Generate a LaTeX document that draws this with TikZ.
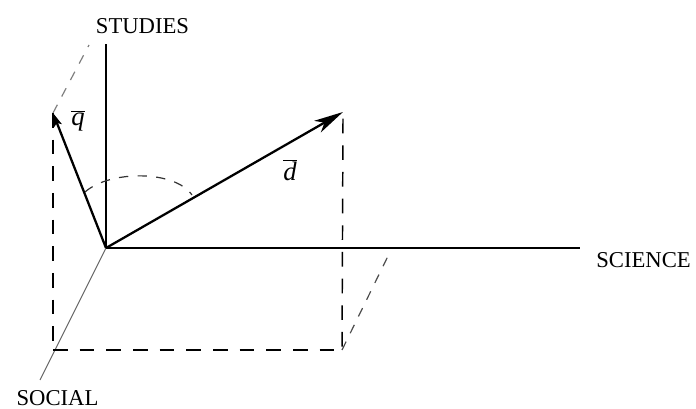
\documentclass[tikz,border=0pt]{standalone}
\usepackage{fontspec}
\setmainfont{Liberation Serif}
\usetikzlibrary{arrows.meta}

\begin{document}
\begin{tikzpicture}[x=0.75pt,y=-0.75pt,
    axis/.style={line width=1.1pt},
    vec/.style={line width=1.7pt},
    proj/.style={line width=1.1pt, dash pattern=on 11pt off 9pt},
    guide/.style={line width=0.9pt, gray, dash pattern=on 7pt off 7pt},
    every node/.style={inner sep=0pt, font=\fontsize{17}{20}\selectfont}]
    \useasboundingbox (0,0) rectangle (696,409);

    % origin and axis ends
    \coordinate (o) at (106,248);
    \coordinate (up) at (106,44);
    \coordinate (right) at (580,248);
    \coordinate (down) at (40,380);

    % vector tips and projections
    \coordinate (q) at (53,113);
    \coordinate (d) at (343,112);
    \coordinate (c1) at (53,350);
    \coordinate (c2) at (342,350);
    \coordinate (s1) at (390,252);
    \coordinate (t1) at (89,45);

    % axis labels
    \node (studies) at (142.5,26) {STUDIES};
    \node (science) at (643.5,260) {SCIENCE};
    \node (social) at (57.5,398) {SOCIAL};

    % vector labels
    \node[font=\fontsize{20}{22}\selectfont] (lq) at (78,121) {$\overline{\textit{q}}$};
    \node[font=\fontsize{20}{22}\selectfont] (ld) at (290,170) {$\overline{\textit{d}}$};

    % axes
    \draw[axis] (o) -- (up);
    \draw[axis] (o) -- (right);
    \draw[axis, gray!80!black, line width=0.8pt] (o) -- (down);

    % projections
    \draw[proj] (q) -- (c1);
    \draw[proj] (c1) -- (c2);
    \draw[proj] ([yshift=-5pt]d) -- (c2);
    \draw[guide, black!70] (c2) -- (s1);
    \draw[guide] (q) -- (t1);

    % angle between q and d
    \draw[guide, black!80] (85,192) .. controls (110,170) and (175,170) .. (192,195);

    % vectors
    \draw[vec, -{Stealth[length=22pt, width=10pt, inset=6pt]}] (o) -- (d);
    \draw[vec, -{Stealth[length=10pt, width=6pt, inset=2pt]}] (o) -- (q);
\end{tikzpicture}
\end{document}
